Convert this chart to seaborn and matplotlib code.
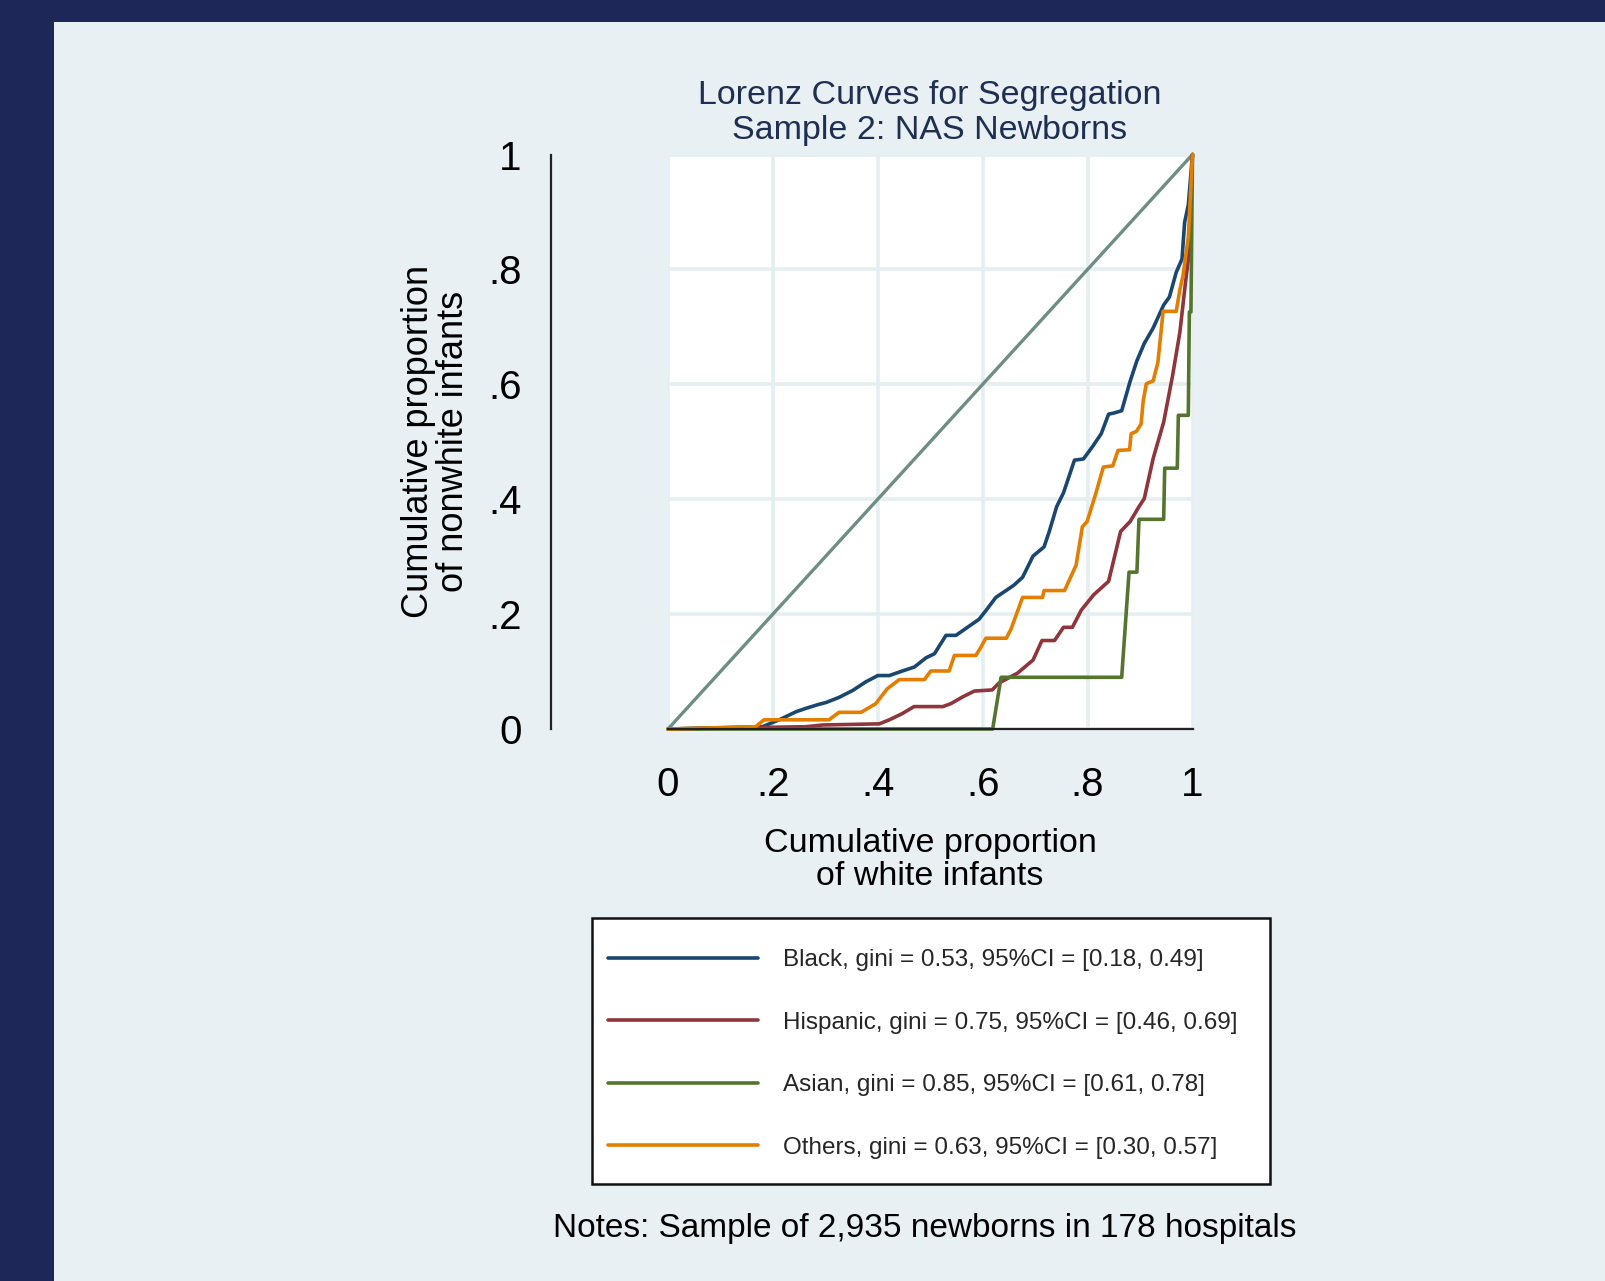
import matplotlib
matplotlib.use("Agg")
import matplotlib.pyplot as plt
import seaborn as sns
import pandas as pd
from matplotlib.patches import Rectangle
from matplotlib.lines import Line2D

# Lorenz curves (cumulative share of white vs nonwhite infants)
black_x = [0, 0.18, 0.212, 0.244, 0.263, 0.288, 0.301, 0.326, 0.352, 0.377, 0.40, 0.422, 0.447, 0.47,
           0.492, 0.508, 0.53, 0.549, 0.593, 0.606, 0.625, 0.638, 0.659, 0.676, 0.696, 0.717, 0.727,
           0.741, 0.754, 0.775, 0.792, 0.809, 0.826, 0.840, 0.850, 0.865, 0.881, 0.894, 0.908, 0.925,
           0.945, 0.956, 0.969, 0.980, 0.985, 0.992, 1.0]
black_y = [0, 0.004, 0.016, 0.030, 0.036, 0.043, 0.046, 0.055, 0.067, 0.082, 0.093, 0.093, 0.101, 0.108,
           0.124, 0.131, 0.163, 0.163, 0.191, 0.206, 0.229, 0.237, 0.250, 0.264, 0.301, 0.317, 0.344,
           0.387, 0.411, 0.468, 0.470, 0.491, 0.514, 0.548, 0.550, 0.554, 0.605, 0.641, 0.671, 0.698,
           0.738, 0.752, 0.795, 0.818, 0.882, 0.912, 1.0]

hisp_x = [0, 0.263, 0.295, 0.403, 0.422, 0.447, 0.469, 0.524, 0.539, 0.562, 0.584, 0.618, 0.631, 0.666,
          0.696, 0.713, 0.737, 0.754, 0.771, 0.788, 0.812, 0.840, 0.863, 0.881, 0.898, 0.908, 0.925,
          0.945, 0.962, 0.976, 0.986, 0.993, 1.0]
hisp_y = [0, 0.004, 0.007, 0.009, 0.016, 0.027, 0.039, 0.039, 0.044, 0.056, 0.066, 0.068, 0.080, 0.097,
          0.120, 0.154, 0.154, 0.177, 0.177, 0.207, 0.234, 0.257, 0.344, 0.361, 0.387, 0.401, 0.471,
          0.534, 0.615, 0.691, 0.772, 0.825, 1.0]

asian_x = [0, 0.619, 0.635, 0.865, 0.879, 0.894, 0.898, 0.945, 0.947, 0.971, 0.973, 0.992, 0.994, 0.997, 1.0]
asian_y = [0, 0, 0.090, 0.090, 0.273, 0.273, 0.365, 0.365, 0.454, 0.454, 0.546, 0.546, 0.726, 0.726, 1.0]

oth_x = [0, 0.167, 0.183, 0.307, 0.326, 0.368, 0.396, 0.418, 0.441, 0.489, 0.501, 0.536, 0.546, 0.587,
         0.597, 0.606, 0.645, 0.654, 0.676, 0.714, 0.717, 0.756, 0.778, 0.790, 0.799, 0.816, 0.830,
         0.848, 0.858, 0.880, 0.883, 0.893, 0.902, 0.906, 0.912, 0.925, 0.934, 0.944, 0.969, 0.976,
         0.982, 0.992, 1.0]
oth_y = [0, 0.004, 0.016, 0.016, 0.029, 0.029, 0.044, 0.070, 0.086, 0.086, 0.101, 0.101, 0.128, 0.128,
         0.143, 0.158, 0.158, 0.174, 0.229, 0.229, 0.241, 0.241, 0.285, 0.352, 0.361, 0.411, 0.456,
         0.458, 0.485, 0.486, 0.514, 0.518, 0.531, 0.571, 0.601, 0.606, 0.638, 0.727, 0.727, 0.765,
         0.790, 0.856, 1.0]

equal_x = [0, 1]
equal_y = [0, 1]

groups = ["Black", "Hispanic", "Asian", "Others"]
gini = [0.53, 0.75, 0.85, 0.63]
ci_low = [0.18, 0.46, 0.61, 0.30]
ci_high = [0.49, 0.69, 0.78, 0.57]
colors = ["#1a476f", "#90353b", "#55752f", "#e37e00"]
ticks = [0, 0.2, 0.4, 0.6, 0.8, 1]
tick_labels = ["0", ".2", ".4", ".6", ".8", "1"]

curves = {"Black": (black_x, black_y), "Hispanic": (hisp_x, hisp_y),
          "Asian": (asian_x, asian_y), "Others": (oth_x, oth_y)}
df = pd.concat([pd.DataFrame({"x": cx, "y": cy, "group": g}) for g, (cx, cy) in curves.items()])

sns.set_style("white")
plt.rcParams["font.family"] = ["Liberation Sans", "DejaVu Sans"]

W, H = 1605, 1281
fig = plt.figure(figsize=(W / 100, H / 100), dpi=100)
fig.patch.set_facecolor("#1d2859")
fig.add_artist(Rectangle((54 / W, 0), 1, 1 - 22 / H, transform=fig.transFigure,
                         facecolor="#e8f0f3", edgecolor="none", zorder=0))

ax = fig.add_axes([668 / W, 1 - 729 / H, 524.5 / W, 574.5 / H])
ax.set_facecolor("white")

# line of equality first, then the four groups
sns.lineplot(x=equal_x, y=equal_y, color="#6e8e84", lw=2.4, ax=ax)
sns.lineplot(data=df, x="x", y="y", hue="group", hue_order=groups, palette=colors,
             sort=False, estimator=None, lw=2.6, legend=False, ax=ax)
for ln in ax.lines:
    ln.set_clip_on(False)

ax.set_xlim(0, 1)
ax.set_ylim(0, 1)
ax.set_xticks(ticks)
ax.set_yticks(ticks)
ax.set_xticklabels(tick_labels)
ax.set_yticklabels(tick_labels)
ax.grid(True, color="#e5eef1", lw=2.6)
ax.set_axisbelow(True)
ax.set_xlabel("")
ax.set_ylabel("")

for s in ["top", "right"]:
    ax.spines[s].set_visible(False)
ax.spines["left"].set_position(("axes", -0.2233))
ax.spines["left"].set_bounds(0, 1)
for s in ["left", "bottom"]:
    ax.spines[s].set_color("#222222")
    ax.spines[s].set_linewidth(1.6)
ax.tick_params(axis="both", length=12, width=1.6, color="#222222", labelsize=29, labelcolor="black")
ax.tick_params(axis="x", pad=15)
ax.tick_params(axis="y", pad=9)

# title and axis titles
fig.text(930 / W, 1 - 113 / H, "Lorenz Curves for Segregation\nSample 2: NAS Newborns",
         ha="center", va="center", fontsize=24.5, color="#1f2f52", linespacing=1.15)
fig.text(930 / W, 1 - 860 / H, "Cumulative proportion\nof white infants",
         ha="center", va="center", fontsize=24.5, color="black", linespacing=1.1)
fig.text(436 / W, 1 - 441.5 / H, "Cumulative proportion\nof nonwhite infants",
         ha="center", va="center", rotation=90, fontsize=26, color="black", linespacing=1.0)

# legend box
fig.add_artist(Rectangle((591.6 / W, 1 - 1184.3 / H), 678.7 / W, 266.3 / H, transform=fig.transFigure,
                         facecolor="white", edgecolor="#111111", lw=1.8, zorder=2))
handles = [Line2D([0], [0], color=c, lw=2.6) for c in colors]
labels = [f"{g}, gini = {gv:.2f}, 95%CI = [{lo:.2f}, {hi:.2f}]"
          for g, gv, lo, hi in zip(groups, gini, ci_low, ci_high)]
leg = fig.legend(handles, labels, loc="center left", bbox_to_anchor=(608 / W, 1 - 1054 / H),
                 frameon=False, fontsize=17.5, handlelength=6.17, handletextpad=1.03,
                 labelspacing=1.67, borderpad=0, borderaxespad=0)
leg.set_zorder(3)

fig.text(925 / W, 1 - 1228 / H, "Notes: Sample of 2,935 newborns in 178 hospitals",
         ha="center", va="center", fontsize=24, color="black")

fig.savefig("out.png", dpi=100, facecolor=fig.get_facecolor())
